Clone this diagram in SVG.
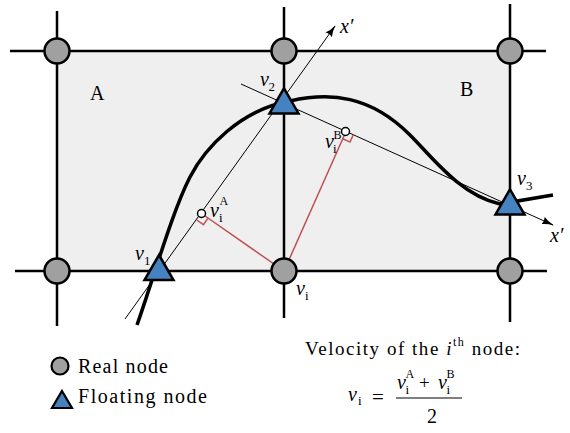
<svg xmlns="http://www.w3.org/2000/svg" width="570" height="433" viewBox="0 0 570 433">
<style>
.it{font-style:italic}
.lab{font-size:20px}
.sub{font-size:13px}
.sup{font-size:12px}
.grid{stroke:#000;stroke-width:2.5;fill:none}
.thin{stroke:#000;stroke-width:1;fill:none}
.red{stroke:#c05050;stroke-width:1.5;fill:none}
.curve{stroke:#000;stroke-width:3.5;fill:none;stroke-linecap:butt}
.real{fill:#a0a0a0;stroke:#000;stroke-width:2.5}
.float{fill:#4682c0;stroke:#000;stroke-width:2.5;stroke-linejoin:miter}
.proj{fill:#fff;stroke:#000;stroke-width:1.5}
</style>
<defs>
<marker id="arr" viewBox="0 0 12 8" refX="11" refY="4" markerWidth="12" markerHeight="8" markerUnits="userSpaceOnUse" orient="auto">
<path d="M0,0 Q5,3 12,4 Q5,5 0,8 Q2,4 0,0 Z" fill="#000"/>
</marker>
<polygon id="tri" points="0,-16.7 14.5,8.4 -14.5,8.4"/>
</defs>

<rect x="57" y="51" width="453" height="220" fill="#efefef"/>

<g id="connectors">
<g id="grid-lines">
<line class="grid" x1="10" y1="51" x2="546" y2="51"/>
<line class="grid" x1="15" y1="271" x2="547" y2="271"/>
<line class="grid" x1="57" y1="11" x2="57" y2="326"/>
<line class="grid" x1="284" y1="7" x2="284" y2="318"/>
<line class="grid" x1="510" y1="4" x2="510" y2="322"/>
</g>
<line id="axis-A" class="thin" x1="125" y1="319" x2="335" y2="26" marker-end="url(#arr)"/>
<line id="axis-B" class="thin" x1="241" y1="84" x2="553" y2="225" marker-end="url(#arr)"/>
<line class="red" x1="284" y1="271" x2="201.5" y2="213.5"/>
<path class="red" d="M196.8,220 L203.4,224.6 L208.1,218.1"/>
<line class="red" x1="284" y1="271" x2="346" y2="131.5"/>
<path class="red" d="M353.3,134.8 L350,142.1 L342.8,138.8"/>
<path id="interface" class="curve" d="M137,325 C153,280 172,212 190,177 C205,148 240,110 290,101 C330,92 370,95 410,135 C432,157 460,195 500,204 L553,195"/>
</g>

<g font-family="'Liberation Serif','Times New Roman','DejaVu Serif','Noto Serif',serif" fill="#000">
<g id="real-nodes">
<circle id="n1" class="real" cx="57" cy="51" r="12.5"/>
<circle id="n2" class="real" cx="284" cy="51" r="12.5"/>
<circle id="n3" class="real" cx="510" cy="51" r="12.5"/>
<circle id="n4" class="real" cx="57" cy="271" r="12.5"/>
<g id="vi"><circle class="real" cx="284" cy="271" r="12.5"/>
<text class="lab it" x="296" y="295">v</text><text class="sub" x="305" y="300">i</text></g>
<circle id="n6" class="real" cx="510" cy="271" r="12.5"/>
</g>

<g id="v1"><use href="#tri" class="float" x="159" y="271.7"/>
<text class="lab it" x="135" y="260">v</text><text class="sub" x="144" y="265">1</text></g>
<g id="v2"><use href="#tri" class="float" x="284" y="105"/>
<text class="lab it" x="260" y="86">v</text><text class="sub" x="268.5" y="91">2</text></g>
<g id="v3"><use href="#tri" class="float" x="510" y="206"/>
<text class="lab it" x="517" y="185">v</text><text class="sub" x="526" y="190">3</text></g>

<g id="viA"><circle class="proj" cx="201.5" cy="213.5" r="4"/>
<text class="lab it" x="210" y="217">v</text><text class="sup" x="219.5" y="205">A</text><text class="sub" x="219" y="222">i</text></g>
<g id="viB"><circle class="proj" cx="345.5" cy="131.5" r="4"/>
<text class="lab it" x="325" y="148">v</text><text class="sup" x="333.5" y="139">B</text><text class="sub" x="333" y="153">i</text></g>

<text class="lab it" x="340" y="33">x′</text>
<text class="lab it" x="550" y="242">x′</text>

<text x="90" y="100" font-size="20">A</text>
<text x="460" y="96" font-size="20">B</text>

<g id="legend">
<circle class="real" cx="60" cy="366" r="8.5" style="stroke-width:2.2"/>
<text x="78" y="373" font-size="20" textLength="90" lengthAdjust="spacing">Real node</text>
<polygon class="float" points="62,391 72,408 52,408" style="stroke-width:2.2"/>
<text x="78" y="403" font-size="20" textLength="129" lengthAdjust="spacing">Floating node</text>
</g>

<g id="formula">
<text x="305" y="355" font-size="19" textLength="215" lengthAdjust="spacing">Velocity of the <tspan font-style="italic">i</tspan><tspan font-size="12" dy="-9">th</tspan><tspan dy="9"> node:</tspan></text>
<text class="lab it" x="348" y="401">v</text><text class="sub" x="358" y="405">i</text>
<text x="372" y="404" font-size="21">=</text>
<text class="lab it" x="397" y="389">v</text><text class="sup" x="405.5" y="378">A</text><text class="sub" x="405.5" y="394">i</text>
<text x="419" y="389" font-size="19">+</text>
<text class="lab it" x="438" y="389">v</text><text class="sup" x="446.5" y="378">B</text><text class="sub" x="446.5" y="394">i</text>
<line x1="396" y1="398" x2="462" y2="398" stroke="#000" stroke-width="1.2"/>
<text x="427" y="423" font-size="20">2</text>
</g>
</g>
</svg>
